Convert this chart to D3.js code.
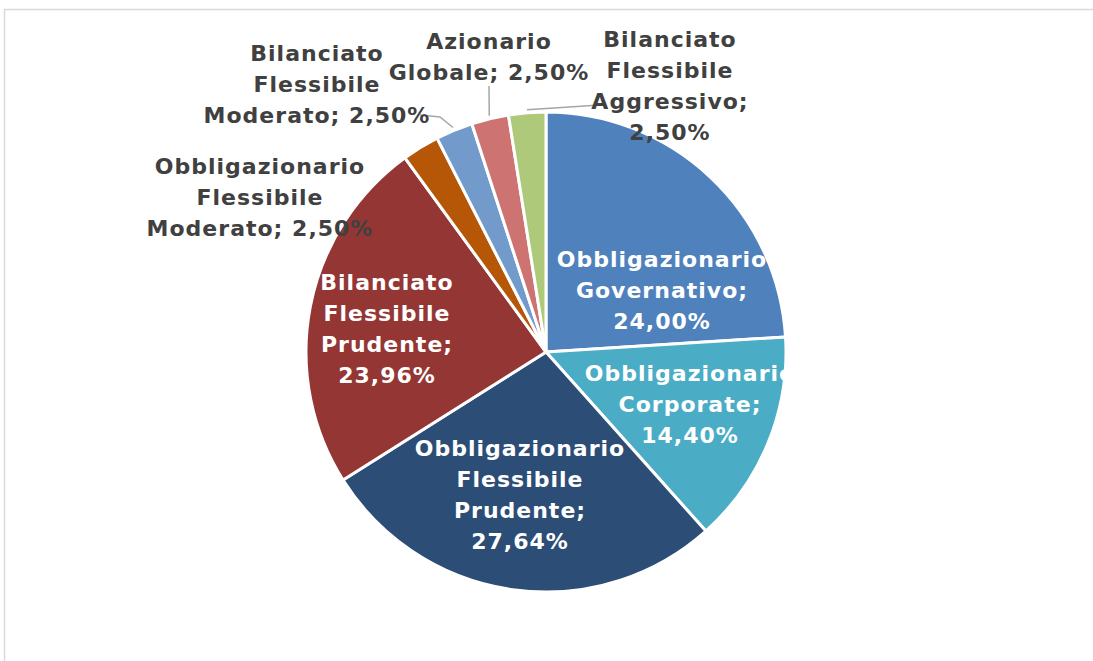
<!DOCTYPE html>
<html>
<head>
<meta charset="utf-8">
<script src="https://cdn.jsdelivr.net/npm/d3@7"></script>
<style>
  body { margin: 0; background: #fff; }
  svg { display: block; }
</style>
</head>
<body>
<div id="chart"></div>
<script>
// categories and values, clockwise from 12 o'clock
const categories = [
    "Obbligazionario Governativo",
    "Obbligazionario Corporate",
    "Obbligazionario Flessibile Prudente",
    "Bilanciato Flessibile Prudente",
    "Obbligazionario Flessibile Moderato",
    "Bilanciato Flessibile Moderato",
    "Azionario Globale",
    "Bilanciato Flessibile Aggressivo"
];
const values = [24.00, 14.40, 27.64, 23.96, 2.50, 2.50, 2.50, 2.50];

// how each label wraps (last line gets "; xx,xx%")
const labelLines = [
    ["Obbligazionario", "Governativo;"],
    ["Obbligazionario", "Corporate;"],
    ["Obbligazionario", "Flessibile", "Prudente;"],
    ["Bilanciato", "Flessibile", "Prudente;"],
    ["Obbligazionario", "Flessibile", "Moderato;"],
    ["Bilanciato", "Flessibile", "Moderato;"],
    ["Azionario", "Globale;"],
    ["Bilanciato", "Flessibile", "Aggressivo;"]
];

const colors = ["#4f81bd", "#4bacc6", "#2c4d75", "#943634", "#b65708", "#729aca", "#cd7371", "#afc97a"];

// chart layout
const config = {
    width: 1093,
    height: 661,
    cx: 546,
    cy: 352,
    radius: 240,
    fontSize: 22,
    letterSpacing: 1,
    lineHeight: 31
};

// label placement relative to pie centre; pctInline = percent on same line as last word
// leader = bend / end points of the leader line (start is taken on the slice edge)
const labelLayout = [
    { dx: 116, dy: -62, inside: true },
    { dx: 144, dy: 52, inside: true },
    { dx: -26, dy: 143, inside: true },
    { dx: -159, dy: -23, inside: true },
    { dx: -286, dy: -155, inside: false, pctInline: true },
    { dx: -229, dy: -268, inside: false, pctInline: true, leader: [[-106, -235], [-126, -237]] },
    { dx: -57, dy: -295, inside: false, pctInline: true, leader: [[-57, -266]] },
    { dx: 124, dy: -266, inside: false, leader: [[54, -247]] }
];

const fmt = v => v.toFixed(2).replace(".", ",") + "%";

const svg = d3.select("#chart")
    .append("svg")
    .attr("width", config.width)
    .attr("height", config.height);

// chart frame
svg.append("rect")
    .attr("x", 4.5)
    .attr("y", 9.5)
    .attr("width", config.width + 10)
    .attr("height", config.height + 10)
    .attr("fill", "#fff")
    .attr("stroke", "#d9d9d9")
    .attr("stroke-width", 1.5);

const g = svg.append("g")
    .attr("transform", `translate(${config.cx}, ${config.cy})`);

const pie = d3.pie().sort(null).value(d => d)(values);

const arc = d3.arc()
    .innerRadius(0)
    .outerRadius(config.radius);

g.selectAll("path.slice")
    .data(pie)
    .enter()
    .append("path")
    .attr("class", "slice")
    .attr("d", arc)
    .attr("fill", (d, i) => colors[i])
    .attr("stroke", "#fff")
    .attr("stroke-width", 3)
    .attr("stroke-linejoin", "round");

// leader lines for the small outside slices
const edgeArc = d3.arc().innerRadius(config.radius + 3).outerRadius(config.radius + 3);
pie.forEach((d, i) => {
    const lay = labelLayout[i];
    if (!lay.leader) return;
    const pts = [edgeArc.centroid(d)].concat(lay.leader);
    g.append("path")
        .attr("d", d3.line()(pts))
        .attr("fill", "none")
        .attr("stroke", "#a6a6a6")
        .attr("stroke-width", 1.5);
});

// data labels
pie.forEach((d, i) => {
    const lay = labelLayout[i];
    const lines = labelLines[i].slice();
    const pct = fmt(values[i]);
    if (lay.pctInline) {
        lines[lines.length - 1] = lines[lines.length - 1] + " " + pct;
    } else {
        lines.push(pct);
    }
    const n = lines.length;
    const text = g.append("text")
        .attr("text-anchor", "middle")
        .attr("font-family", "'DejaVu Sans', sans-serif")
        .attr("font-weight", "bold")
        .attr("font-size", config.fontSize)
        .attr("letter-spacing", config.letterSpacing)
        .attr("fill", lay.inside ? "#ffffff" : "#404040");
    lines.forEach((line, k) => {
        text.append("tspan")
            .attr("x", lay.dx)
            .attr("y", lay.dy + (k - (n - 1) / 2) * config.lineHeight)
            .attr("dominant-baseline", "central")
            .text(line);
    });
});
</script>
</body>
</html>
